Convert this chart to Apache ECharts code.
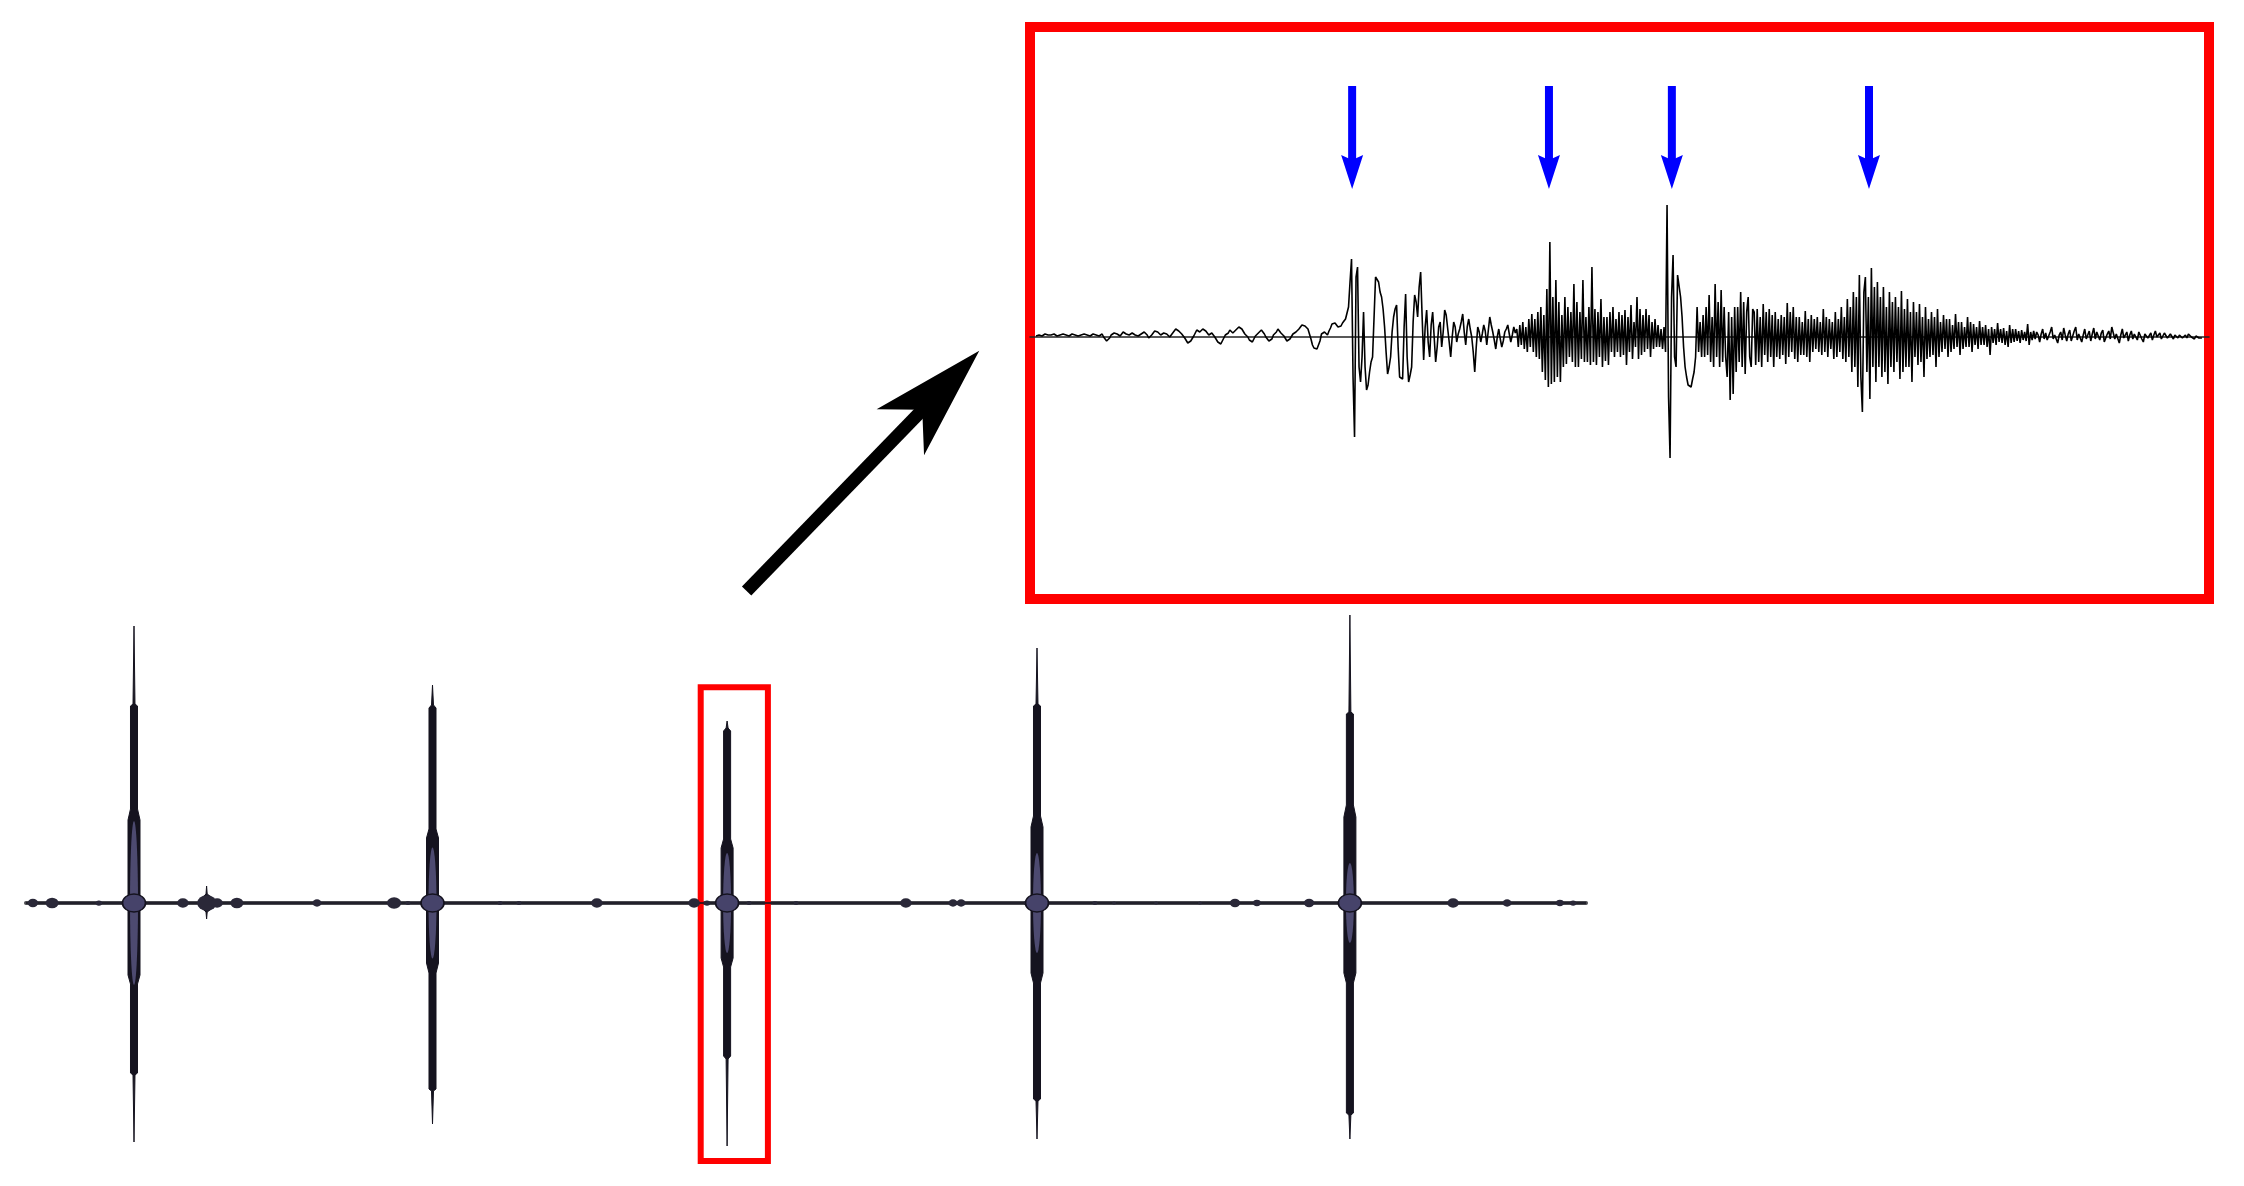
<!DOCTYPE html>
<html><head><meta charset="utf-8">
<script src="https://cdn.jsdelivr.net/npm/echarts@6/dist/echarts.min.js"></script>
<style>html,body{margin:0;padding:0;background:#fff}#c{width:2244px;height:1186px}</style>
</head><body><div id="c"></div>
<script>
// ---------------- DATA ----------------
// Zoomed trace (inset): one amplitude value per sample (sample index = position in array)
const insetWave = [
  // pre-event noise
  1, 0, 2, 3, 1, 2, 3, 1, 2, 4, 2, 1, 3, 2, 1, 0, 2, 3, 3, 2,
  2, 3, 1, 2, 3, 4, 2, 1, 1, 3, 2, 0, 3, 4, 2, 1, 1, 2, 3, 1,
  2, 3, 1, 2, 3, 0, -2, -4, -5, -1, 2, 3, 4, 2, 3, 1, 1, 3, 5, 4,
  3, 1, 2, 4, 4, 3, 2, 0, 1, 3, 3, 5, 5, 3, 2, -1, 0, 2, 4, 6,
  7, 5, 4, 2, 2, 4, 5, 3, 3, 0, 1, 4, 6, 8, 8, 6, 4, 3, 2, -1,
  -3, -6, -7, -4, -2, 1, 4, 7, 8, 5, 6, 8, 8, 6, 5, 2, 2, 4, 3, 0,
  -2, -5, -7, -7, -5, -1, 2, 3, 4, 7, 6, 4, 5, 7, 8, 10, 10, 8, 6, 3,
  2, 0, -3, -5, -5, -2, 1, 3, 4, 6, 7, 5, 3, 0, -2, -4, -5, -2, 2, 4,
  5, 8, 7, 4, 3, 1, -1, -4, -5, -2, 0, 3, 4, 5, 6, 8, 9, 12, 13, 11,
  10, 8, 6, -2, -8, -11, -12, -12, -11, -4, 3, 4, 5, 4, 2, 6, 9, 13, 15, 14,
  // event 1 and coda
  12, 10, 8, 11, 14, 16, 18, 24, 30, 55, 78, -40, -100, 60, 70, -30, -45, -20, 25, -30,
  -53, -48, -35, -25, -20, 20, 60, 58, 55, 45, 40, 28, 10, -15, -37, -30, -20, 5, 20, 28,
  32, -10, -40, -42, -42, 10, 43, -20, -45, -38, -30, 15, 42, 35, 20, 50, 65, 20, -23, 10,
  27, -5, -20, 12, 25, 0, -25, -10, 10, 15, -10, 5, 27, 22, 20, -5, -20, 0, 15, 10,
  -5, 3, 8, 15, 23, 5, -8, 10, 18, 8, 0, -15, -35, -10, 10, 5, -5, 3, 12, 6,
  -8, 6, 20, 12, 5, -3, -12, 0, 8, -2, -10, -4, 5, 8, 12, 3, -5, 2, 10, 4,
  // event 2
  8, -10, 12, -8, 15, -12, 10, -15, 18, -10, 23, -15, 18, -20, 25, -22, 30, -35, 22, -43,
  48, -50, 95, -47, 40, -45, 57, -40, 35, -45, 22, -30, 40, -27, 30, -20, 25, -25, 53, -30,
  35, -30, 25, -22, 57, -25, 20, -25, 30, -28, 70, -25, 28, -28, 25, -20, 38, -30, 20, -24,
  20, -28, 25, -15, 30, -20, 18, -15, 25, -20, 22, -18, 27, -28, 20, -15, 32, -22, 15, -10,
  40, -22, 28, -18, 22, -15, 28, -12, 22, -20, 15, -12, 18, -10, 12, -10, 8, -12, 10, -15,
  // event 3
  132, -60, -121, 40, 82, -20, -30, 62, 62, 40, 20, -10, -30, -40, -48, -50, -50, -42, -35, -20,
  30, -15, 15, -20, 22, -20, 30, -18, 42, -25, 20, -30, 53, -20, 35, -30, 47, -25, 30, -20,
  -40, 25, -63, 20, -57, 30, -35, 30, -25, 45, -30, 35, -37, 25, 40, -20, -30, 28, 25, -28,
  28, -25, 20, -30, 33, -18, 25, -25, 28, -20, 22, -30, 25, -20, 18, -22, 22, -18, 20, -27,
  34, -20, 25, -15, 30, -22, 20, -25, 20, -18, 15, -18, 26, -20, 18, -25, 22, -15, 18, -12,
  20, -15, 15, -18, 28, -15, 20, -20, 18, -12, 15, -22, 25, -20, 18, -15, 30, -22, 20, -25,
  // event 4
  38, -20, 30, -35, 45, -30, 40, -50, 62, -40, -75, 45, 60, -35, 40, -62, 69, -30, 50, -45,
  55, -30, 40, -40, 50, -35, 30, -47, 45, -30, 35, -35, 40, -25, 30, -42, 46, -35, 28, -30,
  38, -30, 25, -45, 35, -20, 25, -28, 33, -25, 20, -40, 30, -22, 18, -20, 25, -18, 20, -30,
  28, -20, 15, -15, 22, -12, 18, -20, 18, -15, 12, -12, 23, -10, 15, -18, 15, -12, 10, -10,
  20, -10, 15, -15, 13, -8, 10, -12, 16, -8, 10, -8, 12, -10, 8, -18, 10, -6, 8, -8,
  14, -5, 8, -6, 9, -8, 6, -10, 12, -6, 8, -5, 8, -4, 6, -6, 7, -3, 5, -4, 13,
  // tail
  -8, 5, -3, 6, -2, 5, 2, -5, 3, 8, -2, 4, -3, -3, 5, 10, -2, 2, 4, -6,
  2, 5, -3, 9, 2, -4, 3, 7, -4, -2, 6, 10, -3, 3, 5, -5, 2, 8, -2, 2,
  6, -4, 3, 9, -2, 5, 3, -3, 4, 7, -5, -5, 3, 6, -2, 10, 4, -2, 3, 4,
  -6, 2, 8, -1, 2, 5, -4, 2, 6, -2, 3, 3, -3, 5, 7, -2, -5, 3, 5, -1,
  1, 4, -3, 2, 6, 0, 2, 4, -2, 1, 4, 5, -1, 0, 3, 1, -2, 2, 4, -1,
  2, 3, -1, 1, 2, -1, 3, 1, 0, 2, -2, 1, 0, -1, -2, -1
];
// Event onsets marked by blue arrows (sample index), arrow extent in amplitude units
const eventIdx = [210.4, 341.4, 423.2, 554.4];
const eventArrowTop = 251;
const eventArrowShaftEnd = 172;
const eventArrowHead = 165;

// Long trace (bottom): time in s, envelope amplitude
const spikeTimes = [3.60, 13.55, 23.37, 33.70, 44.13];
const spikeCoreAmp = [164, 111, 100, 100, 80];
const upperEnv = [
  [0,0],
  [3.233,0],[3.40,8],[3.40,83],[3.483,94],[3.483,197],[3.567,199],[3.60,277],[3.633,199],[3.717,197],[3.717,94],[3.80,83],[3.80,8],[3.967,0],
  [5.77,0],[5.93,7],[6.00,9],[6.02,17],[6.04,9],[6.13,7],[6.29,0],
  [13.183,0],[13.35,8],[13.35,65],[13.433,74],[13.433,195],[13.517,198],[13.55,218],[13.583,198],[13.667,195],[13.667,74],[13.75,65],[13.75,8],[13.917,0],
  [23.003,0],[23.17,8],[23.17,55],[23.253,64],[23.253,172],[23.337,175],[23.37,182],[23.403,175],[23.487,172],[23.487,64],[23.57,55],[23.57,8],[23.737,0],
  [33.333,0],[33.50,8],[33.50,76],[33.583,87],[33.583,197],[33.667,199],[33.70,255],[33.733,199],[33.817,197],[33.817,87],[33.90,76],[33.90,8],[34.067,0],
  [43.763,0],[43.93,8],[43.93,86],[44.013,98],[44.013,189],[44.097,191],[44.13,288],[44.163,191],[44.247,189],[44.247,98],[44.33,86],[44.33,8],[44.497,0],
  [52,0]
];
const lowerEnv = [
  [0,0],
  [3.233,0],[3.40,-8],[3.40,-72],[3.483,-81],[3.483,-170],[3.567,-172],[3.60,-239],[3.633,-172],[3.717,-170],[3.717,-81],[3.80,-72],[3.80,-8],[3.967,0],
  [5.77,0],[5.93,-7],[6.00,-9],[6.02,-16],[6.04,-9],[6.13,-7],[6.29,0],
  [13.183,0],[13.35,-8],[13.35,-60],[13.433,-70],[13.433,-186],[13.517,-188],[13.55,-221],[13.583,-188],[13.667,-186],[13.667,-70],[13.75,-60],[13.75,-8],[13.917,0],
  [23.003,0],[23.17,-8],[23.17,-55],[23.253,-64],[23.253,-153],[23.337,-156],[23.37,-243],[23.403,-156],[23.487,-153],[23.487,-64],[23.57,-55],[23.57,-8],[23.737,0],
  [33.333,0],[33.50,-8],[33.50,-70],[33.583,-80],[33.583,-196],[33.667,-198],[33.70,-236],[33.733,-198],[33.817,-196],[33.817,-80],[33.90,-70],[33.90,-8],[34.067,0],
  [43.763,0],[43.93,-8],[43.93,-70],[44.013,-80],[44.013,-210],[44.097,-212],[44.13,-236],[44.163,-212],[44.247,-210],[44.247,-80],[44.33,-70],[44.33,-8],[44.497,0],
  [52,0]
];
// small bursts along the long trace: [time, burst amplitude]
const bursts = [
  [0.23,8],[0.87,10],[2.43,5],[5.23,9],[6.03,15],[6.37,9],[7.03,10],[9.70,7],[12.27,11],[12.73,4],
  [15.80,4],[16.43,4],[19.03,9],[22.27,9],[22.70,5],[24.10,4],[25.67,4],[29.33,9],[30.90,7],[31.17,7],
  [33.37,5],[35.63,4],[36.27,3],[37.67,3],[39.13,3],[40.30,8],[41.03,6],[42.77,8],[43.83,5],[47.57,9],
  [49.37,7],[51.13,6],[51.57,5]
];
// zoomed window on the long trace and the pointer to the inset (time, amplitude)
const zoomWindow = [[22.49, 215.7], [24.73, -258]];
const pointerLine = [[24.02, 312], [30.07, 499]];
const pointerHead = [30.46, 511.5];

// ---------------- CHART ----------------
const chart = echarts.init(document.getElementById('c'), null, {renderer: 'canvas'});
const hiddenAxis = {axisTick:{show:false}, axisLabel:{show:false}, splitLine:{show:false}};
const series = [
  {type:'line', xAxisIndex:0, yAxisIndex:0, data: upperEnv, showSymbol:false, silent:true, z:3,
   lineStyle:{color:'#15131f', width:1}, areaStyle:{color:'#15131f', opacity:1},
   markArea:{silent:true, itemStyle:{color:'rgba(0,0,0,0)', borderColor:'#ff0000', borderWidth:6},
     data:[[{coord: zoomWindow[0]}, {coord: zoomWindow[1]}]]}},
  {type:'line', xAxisIndex:0, yAxisIndex:0, data: lowerEnv, showSymbol:false, silent:true, z:3,
   lineStyle:{color:'#15131f', width:1}, areaStyle:{color:'#15131f', opacity:1}},
  {type:'scatter', xAxisIndex:0, yAxisIndex:0, silent:true, z:4,
   data: spikeTimes.map((t,k)=>[t,0,spikeCoreAmp[k]]), symbol:'circle',
   symbolSize: v => [8, v[2]], itemStyle:{color:'#4d4a70', opacity:1}},
  {type:'scatter', xAxisIndex:0, yAxisIndex:0, silent:true, z:5,
   data: spikeTimes.map(t=>[t,0]), symbol:'circle', symbolSize:[23,18],
   itemStyle:{color:'#46436a', borderColor:'#15131f', borderWidth:1.5, opacity:1}},
  {type:'scatter', xAxisIndex:0, yAxisIndex:0, silent:true, z:4,
   data: bursts.map(b=>[b[0],0,b[1]]), symbol:'circle',
   symbolSize: v => [v[2]*1.3, v[2]*1.05], itemStyle:{color:'#2a2838', opacity:1}},
  {type:'line', xAxisIndex:0, yAxisIndex:0, data: pointerLine, showSymbol:false, silent:true, z:10, clip:false,
   lineStyle:{color:'#000', width:13, cap:'butt'}},
  {type:'scatter', xAxisIndex:0, yAxisIndex:0, data:[pointerHead], silent:true, z:11, clip:false,
   symbol:'path://M33,0 L66,113.5 L33,82 L0,113.5 Z', symbolSize:[66,113.5], symbolRotate:-44.06,
   itemStyle:{color:'#000', opacity:1}},
  {type:'line', xAxisIndex:1, yAxisIndex:1, data: insetWave.map((v,i)=>[i,v]), showSymbol:false, silent:true, z:3,
   lineStyle:{color:'#000', width:1.6}}
];
eventIdx.forEach(x => {
  series.push({type:'line', xAxisIndex:1, yAxisIndex:1, silent:true, z:6, showSymbol:false,
    data:[[x, eventArrowTop],[x, eventArrowShaftEnd]], lineStyle:{color:'#0000ff', width:8, cap:'butt'}});
});
series.push({type:'scatter', xAxisIndex:1, yAxisIndex:1, silent:true, z:7,
  data: eventIdx.map(x=>[x, eventArrowHead]), symbol:'path://M0,0 L11,5 L22,0 L11,34 Z',
  symbolSize:[22,34], itemStyle:{color:'#0000ff', opacity:1}});

chart.setOption({
  animation:false,
  backgroundColor:'#ffffff',
  grid:[
    {left:26, top:603, width:1560, height:583},
    {left:1030, top:27, width:1179, height:572, show:true, borderColor:'#ff0000', borderWidth:10, backgroundColor:'rgba(0,0,0,0)'}
  ],
  xAxis:[
    Object.assign({gridIndex:0, type:'value', min:0, max:52,
      axisLine:{show:true, onZero:true, lineStyle:{color:'#4b4b50', width:4}}}, hiddenAxis),
    Object.assign({gridIndex:1, type:'value', min:-4, max:780.7,
      axisLine:{show:true, onZero:true, lineStyle:{color:'#222', width:1.5}}}, hiddenAxis)
  ],
  yAxis:[
    Object.assign({gridIndex:0, type:'value', min:-283, max:300, axisLine:{show:false}}, hiddenAxis),
    Object.assign({gridIndex:1, type:'value', min:-262, max:310, axisLine:{show:false}}, hiddenAxis)
  ],
  series: series
});
</script></body></html>
